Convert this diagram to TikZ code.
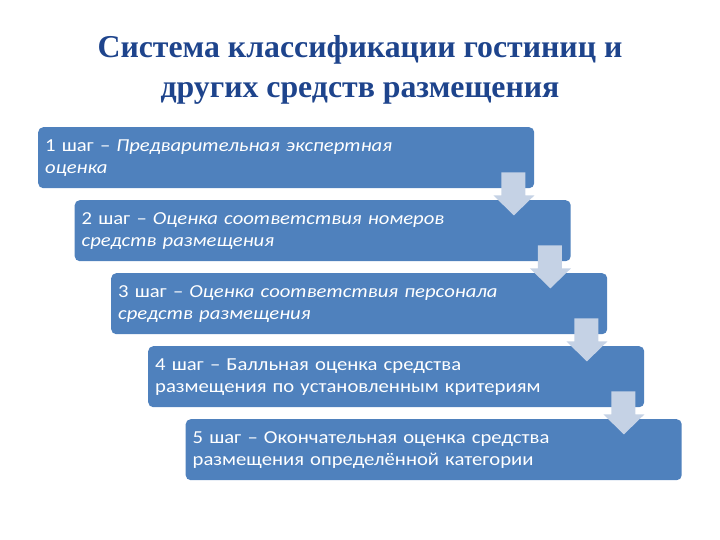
\documentclass[tikz,border=0pt]{standalone}
\usepackage{fontspec}
\setmainfont{Carlito}
\newfontfamily\boxfont[FakeStretch=1.13]{Carlito}
\newfontfamily\titlefont{Liberation Serif}
\usetikzlibrary{calc}
\definecolor{boxblue}{RGB}{79,129,189}
\definecolor{arrowfill}{RGB}{197,210,229}
\definecolor{titleblue}{RGB}{30,68,140}
\tikzset{
  stepbox/.style={draw=none, fill=boxblue, rounded corners=5pt, minimum width=496pt, minimum height=61pt,
    text width=482pt, inner sep=7pt, align=left, text=white, font=\boxfont\fontsize{18.3}{22}\selectfont, anchor=north west},
  blockarrow/.style={fill=arrowfill, draw=none}
}
\newcommand{\downarr}[1]{%
  \fill[blockarrow] ($(#1.south east)+(-33pt,16pt)$) -- ($(#1.south east)+(-9pt,16pt)$)
    -- ($(#1.south east)+(-9pt,-7pt)$) -- ($(#1.south east)+(0pt,-7pt)$)
    -- ($(#1.south east)+(-20.5pt,-27pt)$) -- ($(#1.south east)+(-41pt,-7pt)$)
    -- ($(#1.south east)+(-33pt,-7pt)$) -- cycle;}
\begin{document}
\begin{tikzpicture}[x=1pt,y=-1pt]
\useasboundingbox (0,0) rectangle (720,540);
\node[font=\titlefont\bfseries\fontsize{31.8}{40}\selectfont, text=titleblue, align=center] (title) at (360,70)
  {Система классификации гостиниц и\\других средств размещения};
\node[stepbox] (b1) at (38,127) {1 шаг – \textit{Предварительная экспертная}\\\textit{оценка}};
\node[stepbox] (b2) at (74.5,200) {2 шаг – \textit{Оценка соответствия номеров}\\\textit{средств размещения}};
\node[stepbox] (b3) at (111,273) {3 шаг – \textit{Оценка соответствия персонала}\\\textit{средств размещения}};
\node[stepbox] (b4) at (148,346) {4 шаг – Балльная оценка средства\\размещения по установленным критериям};
\node[stepbox] (b5) at (185.5,419) {5 шаг – Окончательная оценка средства\\размещения определённой категории};
\downarr{b1}
\downarr{b2}
\downarr{b3}
\downarr{b4}
\end{tikzpicture}
\end{document}
